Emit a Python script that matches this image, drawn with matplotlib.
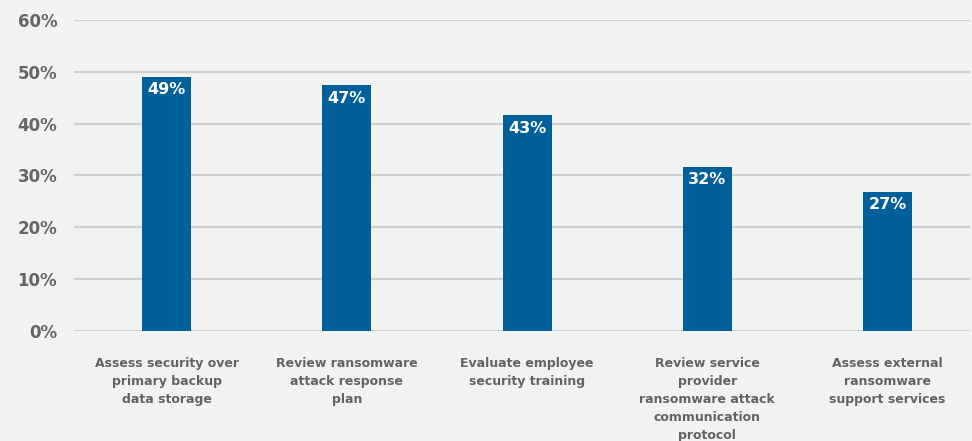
import matplotlib
matplotlib.use("Agg")
import matplotlib.pyplot as plt

categories = [
    "Assess security over\nprimary backup\ndata storage",
    "Review ransomware\nattack response\nplan",
    "Evaluate employee\nsecurity training",
    "Review service\nprovider\nransomware attack\ncommunication\nprotocol",
    "Assess external\nransomware\nsupport services",
]
values = [49, 47.4, 41.6, 31.7, 26.8]
value_labels = ["49%", "47%", "43%", "32%", "27%"]
yticks = [0, 10, 20, 30, 40, 50, 60]
ytick_labels = ["0%", "10%", "20%", "30%", "40%", "50%", "60%"]

bg = "#f1f2f2"
bar_color = "#015f99"
text_gray = "#666666"

plt.rcParams['font.family'] = ['DejaVu Sans']

fig = plt.figure(figsize=(9.72, 4.41), dpi=100, facecolor=bg)
ax = fig.add_axes([0.0761, 0.250, 0.922, 0.7046], facecolor=bg)

x = list(range(len(categories)))
ax.bar(x, values, width=0.272, color=bar_color, zorder=3)

for xi, v, lab in zip(x, values, value_labels):
    ax.annotate(lab, (xi, v), xytext=(0, -13), textcoords="offset pixels",
                ha="center", va="center", color="white", fontsize=11.5, fontweight="bold", zorder=4)

ax.set_ylim(0, 60)
ax.set_xlim(-0.514, 4.458)
ax.set_yticks(yticks)
ax.set_yticklabels(ytick_labels)
ax.yaxis.grid(True, color="#cfcfcf", linewidth=1.6, zorder=0)
ax.set_axisbelow(True)
ax.tick_params(axis="y", length=0, pad=12, labelsize=12, labelcolor=text_gray)
for t in ax.get_yticklabels():
    t.set_fontweight("bold")
ax.set_xticks(x)
ax.set_xticklabels(categories, fontsize=9.0, color="#636363", fontweight="semibold",
                   linespacing=1.5, va="top")
ax.tick_params(axis="x", length=0, pad=19)
for s in ax.spines.values():
    s.set_visible(False)

fig.savefig("out.png", dpi=100, facecolor=bg)
